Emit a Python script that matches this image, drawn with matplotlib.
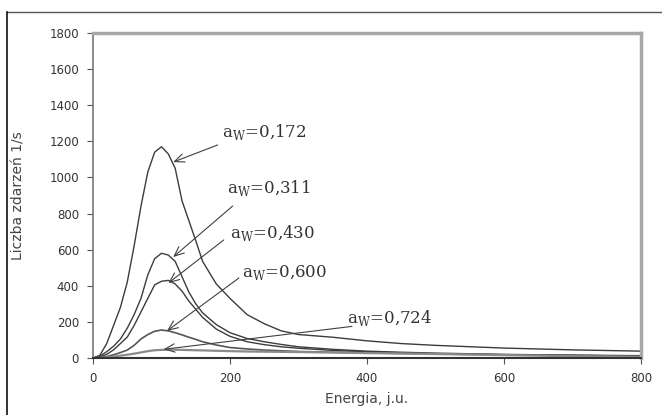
import matplotlib
matplotlib.use("Agg")
import matplotlib.pyplot as plt
from matplotlib.lines import Line2D

# energy grid (j.u.)
energy = [0, 10, 20, 30, 40, 50, 60, 70, 80, 90, 100, 110, 120, 130, 140, 150,
          160, 180, 200, 225, 250, 275, 300, 350, 400, 450, 500, 600, 700, 800]

# event rate (1/s) for each water activity
rate_172 = [0, 15, 80, 180, 280, 420, 620, 840, 1030, 1140, 1170, 1130, 1050, 870, 760, 650,
            535, 410, 330, 240, 190, 150, 130, 115, 95, 80, 70, 55, 45, 38]
rate_311 = [0, 10, 35, 65, 105, 165, 240, 330, 460, 550, 580, 570, 535, 450, 365, 300,
            250, 185, 140, 108, 90, 75, 62, 48, 38, 32, 27, 20, 16, 13]
rate_430 = [0, 5, 20, 45, 80, 116, 180, 255, 330, 405, 425, 430, 410, 370, 315, 270,
            225, 160, 120, 90, 74, 62, 54, 42, 34, 28, 24, 18, 14, 11]
rate_600 = [0, 2, 8, 18, 30, 44, 70, 105, 130, 148, 155, 150, 140, 128, 115, 103,
            90, 72, 58, 50, 44, 40, 36, 32, 28, 25, 22, 18, 14, 10]
rate_724 = [0, 1, 4, 8, 13, 18, 24, 31, 38, 43, 45, 46, 46, 45, 44, 43,
            42, 40, 38, 36, 35, 34, 33, 30, 27, 25, 22, 16, 10, 6]

labels = ["0,172", "0,311", "0,430", "0,600", "0,724"]
series = [rate_172, rate_311, rate_430, rate_600, rate_724]
colors = ["#3c3c3c", "#3c3c3c", "#3c3c3c", "#555555", "#8a8a8a"]
widths = [1.0, 1.0, 1.0, 1.2, 1.6]

# annotation anchors: (arrow head on curve), (arrow tail), (text left/centre)
heads = [(117, 1085), (117, 559), (110, 415), (108, 150), (103, 48)]
tails = [(182, 1180), (204, 842), (191, 654), (213, 443), (378, 175)]
texts = [(188, 1252), (196, 941), (200, 690), (218, 475), (371, 221)]

fig = plt.figure(figsize=(6.62, 4.15), dpi=100)
ax = fig.add_axes([93 / 662, 1 - 358 / 415, 548 / 662, 325 / 415])

for y, c, w in zip(series, colors, widths):
    ax.plot(energy, y, color=c, lw=w)

for lab, h, t, p in zip(labels, heads, tails, texts):
    ax.annotate("", xy=h, xytext=t,
                arrowprops=dict(arrowstyle="->,head_length=0.7,head_width=0.3",
                                color="#404040", lw=0.8, shrinkA=0, shrinkB=0))
    ax.text(p[0], p[1], r"a$_{\mathregular{W}}$=" + lab, fontsize=12,
            family="DejaVu Serif", color="#333333", va="center", ha="left")

ax.set_xlim(0, 800)
ax.set_ylim(0, 1800)
ax.set_xticks([0, 200, 400, 600, 800])
ax.set_yticks(range(0, 1801, 200))
ax.tick_params(axis="both", labelsize=8.5, colors="#555555", length=4, width=0.8)
ax.tick_params(axis="x", pad=6)
ax.tick_params(axis="y", pad=6)
for lbl in ax.get_xticklabels() + ax.get_yticklabels():
    lbl.set_color("#333333")

ax.spines["top"].set_color("#a8a8a8")
ax.spines["top"].set_linewidth(2.5)
ax.spines["right"].set_color("#a8a8a8")
ax.spines["right"].set_linewidth(2.5)
ax.spines["left"].set_color("#777777")
ax.spines["left"].set_linewidth(1.2)
ax.spines["bottom"].set_color("#333333")
ax.spines["bottom"].set_linewidth(1.5)

ax.set_xlabel("Energia, j.u.", fontsize=10, color="#444444")
ax.set_ylabel("Liczba zdarzeń 1/s", fontsize=10, color="#444444")
ax.yaxis.set_label_coords(-0.123, 0.5)
ax.xaxis.set_label_coords(0.5, -0.105)

# outer frame (top and left edges only visible)
fig.add_artist(Line2D([7 / 662, 1], [1 - 12 / 415, 1 - 12 / 415],
                      transform=fig.transFigure, color="#555555", lw=1))
fig.add_artist(Line2D([7 / 662, 7 / 662], [0, 1 - 12 / 415],
                      transform=fig.transFigure, color="#111111", lw=1.2))

fig.savefig("out.png", dpi=100)
